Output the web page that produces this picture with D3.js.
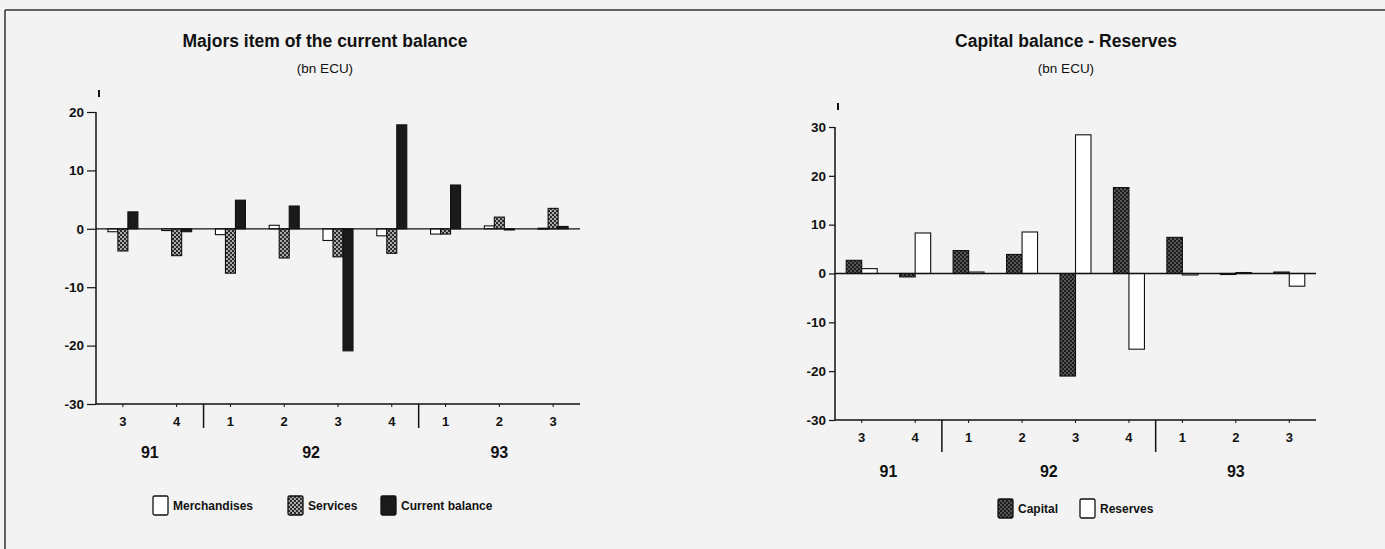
<!DOCTYPE html>
<html>
<head>
<meta charset="utf-8">
<script src="https://cdn.jsdelivr.net/npm/d3@7"></script>
<style>
  html, body { margin: 0; padding: 0; background: #f3f3f3; }
  svg { display: block; font-family: "Liberation Sans", Arial, sans-serif; }
</style>
</head>
<body>
<svg id="chart" width="1385" height="549"></svg>
<script>
// ---- Data ----
const categories = ["91Q3","91Q4","92Q1","92Q2","92Q3","92Q4","93Q1","93Q2","93Q3"];
const quarterLabels = ["3","4","1","2","3","4","1","2","3"];
const years = ["91","92","93"];
const yearOfCategory = ["91","91","92","92","92","92","93","93","93"];

const merchandises   = [-0.5, -0.3, -1.0, 0.6, -2.0, -1.2, -0.9, 0.5, 0.1];
const services       = [-3.8, -4.6, -7.6, -5.0, -4.8, -4.2, -0.9, 2.0, 3.5];
const currentBalance = [2.9, -0.5, 4.9, 3.9, -20.9, 17.8, 7.5, -0.2, 0.4];

const capital  = [2.7, -0.7, 4.7, 3.9, -21.0, 17.6, 7.4, -0.1, 0.3];
const reserves = [1.0, 8.3, 0.3, 8.5, 28.4, -15.5, -0.3, 0.2, -2.6];

const leftTicks  = [20, 10, 0, -10, -20, -30];
const rightTicks = [30, 20, 10, 0, -10, -20, -30];

// ---- Setup ----
const svg = d3.select("#chart");
const defs = svg.append("defs");

function dotPattern(id, bg, dot, size, r) {
  const p = defs.append("pattern").attr("id", id)
    .attr("patternUnits", "userSpaceOnUse").attr("width", size).attr("height", size);
  p.append("rect").attr("width", size).attr("height", size).attr("fill", bg);
  p.append("circle").attr("cx", size / 4).attr("cy", size / 4).attr("r", r).attr("fill", dot);
  p.append("circle").attr("cx", 3 * size / 4).attr("cy", 3 * size / 4).attr("r", r).attr("fill", dot);
}
dotPattern("svcPat", "#2a2a2a", "#e8e8e8", 4, 0.9);
dotPattern("capPat", "#1e1e1e", "#9a9a9a", 4, 0.8);

// frame
svg.append("line").attr("x1", 5).attr("x2", 1385).attr("y1", 10).attr("y2", 10)
  .attr("stroke", "#333").attr("stroke-width", 1.5);
svg.append("line").attr("x1", 5).attr("x2", 5).attr("y1", 10).attr("y2", 549)
  .attr("stroke", "#333").attr("stroke-width", 1.5);

function drawChart(cfg) {
  const g = svg.append("g");
  const x = d3.scaleBand().domain(categories).range([cfg.x0, cfg.x1]).padding(0);
  const y = d3.scaleLinear().domain(cfg.domain).range([cfg.yBottom, cfg.yTop]);
  const inner = d3.scaleBand().domain(cfg.series.map(s => s.name))
    .range([-cfg.cluster / 2, cfg.cluster / 2]).padding(0);

  // titles
  g.append("text").attr("x", cfg.titleX).attr("y", cfg.titleY)
    .attr("text-anchor", "middle").attr("font-size", 17.5).attr("font-weight", "bold")
    .attr("fill", "#111").text(cfg.title);
  g.append("text").attr("x", cfg.titleX).attr("y", cfg.titleY + 26)
    .attr("text-anchor", "middle").attr("font-size", 13.5)
    .attr("fill", "#111").text("(bn ECU)");

  // y axis
  const yAxis = d3.axisLeft(y).tickValues(cfg.ticks).tickSize(cfg.tickLen).tickPadding(3)
    .tickFormat(d => String(d));
  const ya = g.append("g").attr("transform", `translate(${cfg.x0},0)`).call(yAxis);
  ya.select(".domain").attr("stroke", "#111").attr("stroke-width", 1.5)
    .attr("d", `M0,${y(cfg.domain[1])}V${y(cfg.domain[0])}`);
  ya.selectAll(".tick line").attr("stroke", "#111").attr("stroke-width", 1.2);
  ya.selectAll(".tick text").attr("font-size", 13.5).attr("font-weight", "bold")
    .attr("fill", "#111").attr("font-family", "'Liberation Sans', Arial");
  // small unit mark above axis
  g.append("line").attr("x1", cfg.x0 + 3).attr("x2", cfg.x0 + 3)
    .attr("y1", y(cfg.domain[1]) - cfg.markOff).attr("y2", y(cfg.domain[1]) - cfg.markOff + 7)
    .attr("stroke", "#111").attr("stroke-width", 2);

  // bars
  cfg.series.forEach(s => {
    g.append("g").selectAll("rect").data(s.values).join("rect")
      .attr("x", (d, i) => x(categories[i]) + x.bandwidth() / 2 + inner(s.name))
      .attr("width", inner.bandwidth())
      .attr("y", d => Math.min(y(d), y(0)))
      .attr("height", d => Math.max(1, Math.abs(y(d) - y(0))))
      .attr("fill", s.fill).attr("stroke", "#111").attr("stroke-width", 1.1);
  });

  // zero line
  g.append("line").attr("x1", cfg.x0).attr("x2", cfg.x1)
    .attr("y1", y(0)).attr("y2", y(0)).attr("stroke", "#111").attr("stroke-width", 1.3);

  // x axis
  const xa = g.append("g").attr("transform", `translate(0,${cfg.yBottom})`)
    .call(d3.axisBottom(x).tickSize(3).tickPadding(cfg.qPad).tickFormat((d, i) => quarterLabels[i]));
  xa.select(".domain").attr("stroke", "#111").attr("stroke-width", 1.5)
    .attr("d", `M${cfg.x0},0H${cfg.x1}`);
  xa.selectAll(".tick line").attr("stroke", "#111");
  xa.selectAll(".tick text").attr("font-size", 13).attr("font-weight", "bold").attr("fill", "#111");

  // year separators and labels
  years.forEach(yr => {
    const idx = categories.map((c, i) => i).filter(i => yearOfCategory[i] === yr);
    const first = idx[0], last = idx[idx.length - 1];
    if (first > 0) {
      const sx = x(categories[first]);
      g.append("line").attr("x1", sx).attr("x2", sx)
        .attr("y1", cfg.yBottom).attr("y2", cfg.yBottom + cfg.sepLen)
        .attr("stroke", "#111").attr("stroke-width", 1.5);
    }
    const cx = (x(categories[first]) + x(categories[last]) + x.bandwidth()) / 2;
    g.append("text").attr("x", cx).attr("y", cfg.yBottom + cfg.yearDy)
      .attr("text-anchor", "middle").attr("font-size", 16).attr("font-weight", "bold")
      .attr("fill", "#111").text(yr);
  });

  // legend
  cfg.series.forEach((s, i) => {
    const lx = cfg.legendX[i];
    g.append("rect").attr("x", lx).attr("y", cfg.legendY - 9).attr("width", 15).attr("height", 19)
      .attr("fill", s.fill).attr("stroke", "#111").attr("stroke-width", 1.3).attr("rx", 1.5);
    g.append("text").attr("x", lx + 20).attr("y", cfg.legendY + 5)
      .attr("font-size", 12).attr("font-weight", "bold").attr("fill", "#111")
      .text(s.name);
  });
}

drawChart({
  title: "Majors item of the current balance", titleX: 325, titleY: 47,
  x0: 96, x1: 580, yTop: 112, yBottom: 404, domain: [-30, 20],
  ticks: leftTicks, tickLen: 9, markOff: 22, cluster: 30, qPad: 10,
  sepLen: 24, yearDy: 54,
  series: [
    { name: "Merchandises", values: merchandises, fill: "#ffffff" },
    { name: "Services", values: services, fill: "url(#svcPat)" },
    { name: "Current balance", values: currentBalance, fill: "#1a1a1a" }
  ],
  legendX: [153, 288, 381], legendY: 505
});

drawChart({
  title: "Capital balance - Reserves", titleX: 1066, titleY: 47,
  x0: 835, x1: 1316, yTop: 127, yBottom: 420, domain: [-30, 30],
  ticks: rightTicks, tickLen: 6, markOff: 24, cluster: 31, qPad: 10,
  sepLen: 32, yearDy: 57,
  series: [
    { name: "Capital", values: capital, fill: "url(#capPat)" },
    { name: "Reserves", values: reserves, fill: "#ffffff" }
  ],
  legendX: [998, 1080], legendY: 508
});
</script>
</body>
</html>
